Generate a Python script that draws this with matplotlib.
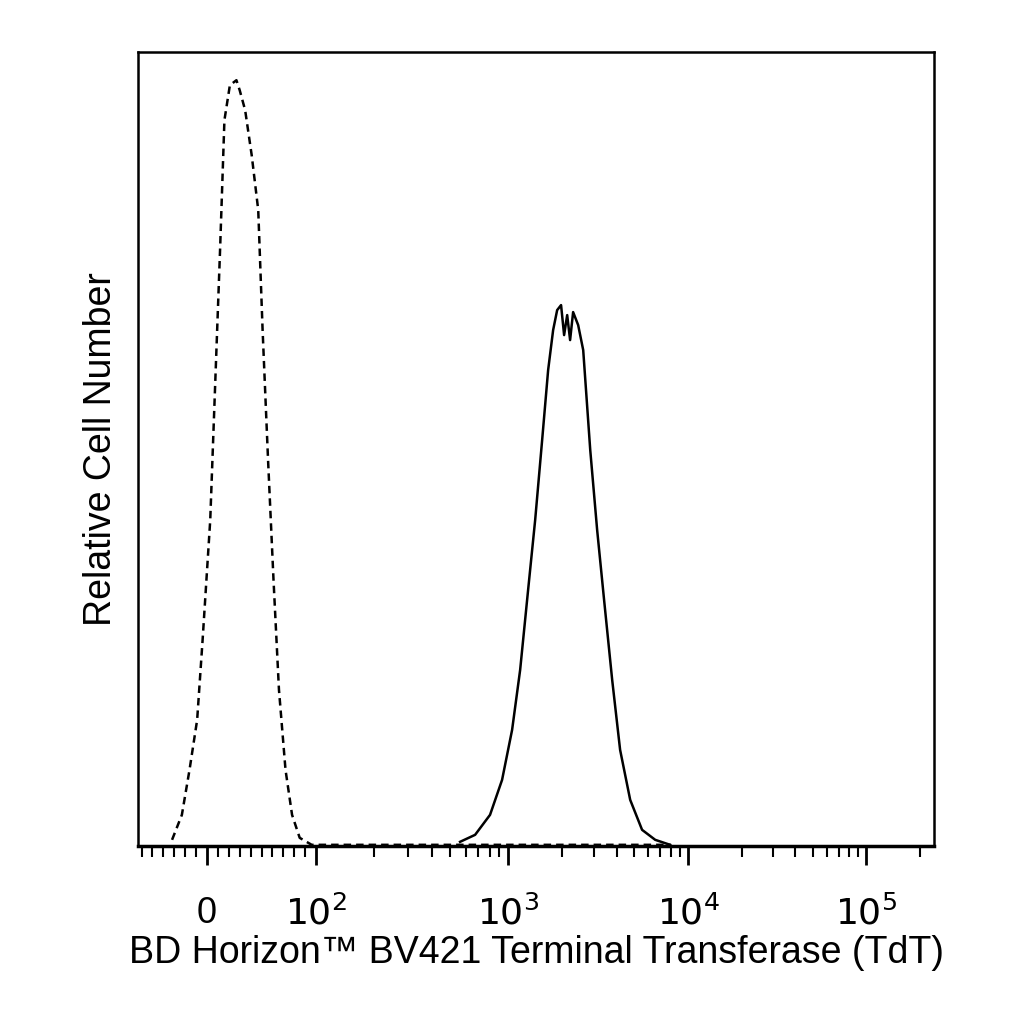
import numpy as np
import matplotlib.pyplot as plt
from matplotlib.ticker import FixedLocator, NullFormatter

plt.rcParams['font.family'] = ['Liberation Sans', 'DejaVu Sans']

# isotype control (dashed)
ctrl_x = [-32, -23, -16, -9, -4, 3, 7, 12, 16, 21, 27, 30, 35, 41, 47, 51, 56, 61, 66,
          72, 78, 85, 96, 300, 1000, 3000, 8000]
ctrl_y = [6, 31, 76, 126, 206, 326, 446, 596, 726, 761, 766, 756, 736, 691, 636, 516,
          386, 266, 156, 76, 31, 8, 1, 1, 1, 1, 1]

# TdT stained (solid)
tdt_x = [562, 673, 805, 930, 1052, 1166, 1291, 1413, 1545, 1668, 1778, 1872, 1968, 2046,
         2128, 2209, 2296, 2449, 2612, 2858, 3122, 3412, 3784, 4188, 4764, 5546, 6561, 7943]
tdt_y = [4, 11, 31, 66, 116, 176, 256, 326, 406, 476, 516, 536, 541, 511, 531, 506, 534,
         521, 496, 396, 316, 246, 166, 96, 46, 16, 6, 1]

major_ticks = [0, 1e2, 1e3, 1e4, 1e5]
major_labels = ['0', '$10^2$', '$10^3$', '$10^4$', '$10^5$']

# biexponential-like display: linear below 100, decades of slightly unequal width
LIN = 0.606
DEC_U = [0, 1, 2, 3, 4]
DEC_T = [0, 1.067, 2.067, 3.056, 4.045]


def forward(x):
    x = np.asarray(x, dtype=float)
    ax_ = np.abs(x)
    out = np.where(ax_ <= 100, ax_ / 100 * LIN,
                   LIN + np.interp(np.log10(np.maximum(ax_, 100) / 100), DEC_U, DEC_T))
    return np.sign(x) * out


def inverse(t):
    t = np.asarray(t, dtype=float)
    at = np.abs(t)
    out = np.where(at <= LIN, at / LIN * 100,
                   100 * 10 ** np.interp(np.maximum(at - LIN, 0), DEC_T, DEC_U))
    return np.sign(t) * out


fig = plt.figure(figsize=(10.24, 10.24), dpi=100)
ax = fig.add_axes([0.135, 0.174, 0.777, 0.775])

ax.plot(ctrl_x, ctrl_y, color='black', lw=1.8, ls=(0, (3, 2)))
ax.plot(tdt_x, tdt_y, color='black', lw=1.8)

ax.set_xscale('function', functions=(forward, inverse))
ax.set_xlim(-63, 240000)
ax.set_ylim(0, 794)

minors = [v for v in range(-60, 100, 10) if v != 0]
for d in [100, 1000, 10000, 100000]:
    minors += [d * k for k in range(2, 10) if d * k < 240000]
ax.xaxis.set_major_locator(FixedLocator(major_ticks))
ax.xaxis.set_minor_locator(FixedLocator(minors))
ax.xaxis.set_minor_formatter(NullFormatter())
ax.set_xticklabels(major_labels, fontsize=26)
ax.tick_params(axis='x', which='major', length=14, width=2, direction='out', pad=22)
ax.tick_params(axis='x', which='minor', length=8, width=1.5, direction='out')
ax.set_yticks([])
for s in ax.spines.values():
    s.set_linewidth(1.8)
ax.spines['bottom'].set_linewidth(2.5)

ax.set_xlabel('BD Horizon\u2122 BV421 Terminal Transferase (TdT)', fontsize=27, labelpad=2)
ax.set_ylabel('Relative Cell Number', fontsize=27, labelpad=14)

fig.savefig('out.png', dpi=100)
